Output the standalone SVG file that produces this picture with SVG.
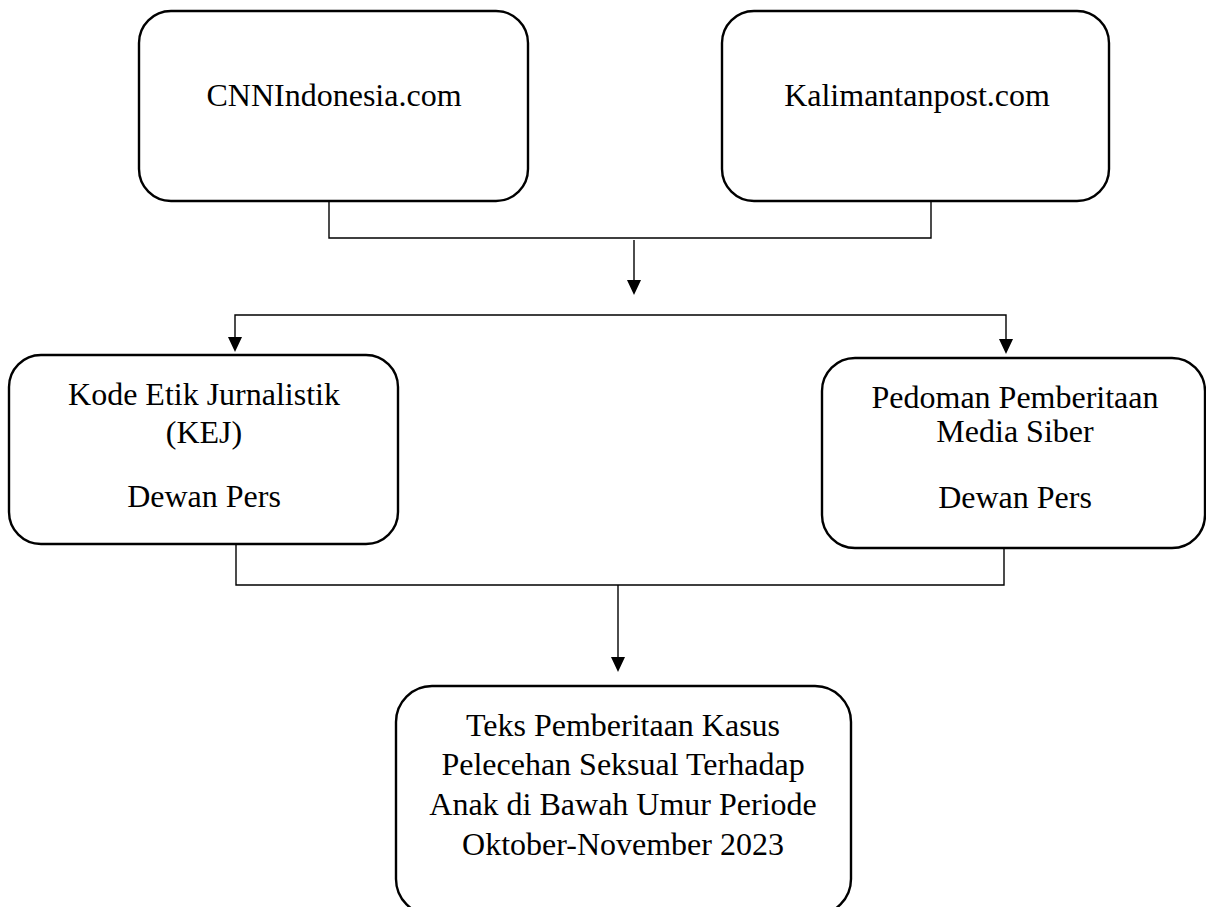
<svg xmlns="http://www.w3.org/2000/svg" width="1206" height="907" viewBox="0 0 1206 907">
<defs>
<style>
.box{fill:#fff;stroke:#000;stroke-width:2.4}
.t{font-family:"Liberation Serif","Times New Roman",serif;font-size:32px;fill:#000;text-anchor:middle}
.c{fill:none;stroke:#000;stroke-width:1.4}
.ah{fill:#000}
</style>
</defs>
<rect width="1206" height="907" fill="#fff"/>
<g id="connectors">
<path class="c" d="M329,201 V238 H931 V201"/>
<line class="c" x1="634" y1="240" x2="634" y2="281"/>
<path class="ah" d="M627,280 L641,280 L634,295 Z"/>
<path class="c" d="M235,337 V315 H1006 V339"/>
<path class="ah" d="M228,337 L242,337 L235,352 Z"/>
<path class="ah" d="M999,339 L1013,339 L1006,354 Z"/>
<path class="c" d="M236,545 V585 H1004 V548"/>
<line class="c" x1="618" y1="585" x2="618" y2="658"/>
<path class="ah" d="M611,657 L625,657 L618,672 Z"/>
</g>
<g id="cnn">
<rect class="box" x="139" y="11" width="389" height="190" rx="32"/>
<text class="t" x="334" y="106">CNNIndonesia.com</text>
</g>
<g id="kalimantanpost">
<rect class="box" x="722" y="11" width="387" height="190" rx="32"/>
<text class="t" x="917" y="106">Kalimantanpost.com</text>
</g>
<g id="kej">
<rect class="box" x="9" y="355" width="389" height="189" rx="32"/>
<text class="t" x="204" y="405">Kode Etik Jurnalistik</text>
<text class="t" x="204" y="443">(KEJ)</text>
<text class="t" x="204" y="507">Dewan Pers</text>
</g>
<g id="ppms">
<rect class="box" x="822" y="358" width="383" height="190" rx="33"/>
<text class="t" x="1015" y="408">Pedoman Pemberitaan</text>
<text class="t" x="1015" y="442">Media Siber</text>
<text class="t" x="1015" y="508">Dewan Pers</text>
</g>
<g id="teks">
<rect class="box" x="396" y="686" width="455" height="229" rx="36"/>
<text class="t" x="623" y="736">Teks Pemberitaan Kasus</text>
<text class="t" x="623" y="775">Pelecehan Seksual Terhadap</text>
<text class="t" x="623" y="815">Anak di Bawah Umur Periode</text>
<text class="t" x="623" y="855">Oktober-November 2023</text>
</g>
</svg>
